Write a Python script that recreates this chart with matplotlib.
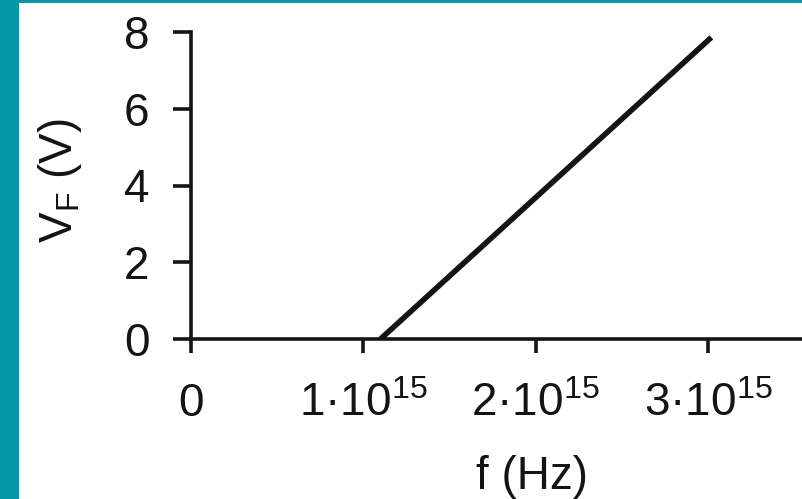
import matplotlib
matplotlib.use("Agg")
import matplotlib.pyplot as plt
import matplotlib.patches as patches

plt.rcParams['font.family'] = ['Liberation Sans', 'DejaVu Sans']
plt.rcParams['mathtext.default'] = 'regular'

# Data
freq_hz = [1.10e15, 3.02e15]
voltage_v = [0.0, 7.86]
xticks = [0, 1e15, 2e15, 3e15]
xtick_labels = ['0', '1·10$^{15}$', '2·10$^{15}$', '3·10$^{15}$']
yticks = [0, 2, 4, 6, 8]
ytick_labels = ['0', '2', '4', '6', '8']

W, H = 802, 499
fig = plt.figure(figsize=(W / 100, H / 100), dpi=100)
fig.patch.set_facecolor('white')

# teal frame (left and top)
teal = '#0798A8'
fig.add_artist(patches.Rectangle((0, 0), 19 / W, 1, transform=fig.transFigure,
                                 facecolor=teal, edgecolor='none', zorder=0))
fig.add_artist(patches.Rectangle((0, 1 - 3 / H), 1, 3 / H, transform=fig.transFigure,
                                 facecolor=teal, edgecolor='none', zorder=0))

x0, x1 = 191, 802
y0, y1 = 339, 32
ax = fig.add_axes([x0 / W, 1 - y0 / H, (x1 - x0) / W, (y0 - y1) / H])
ax.set_facecolor('none')

ink = '#141414'
ax.plot(freq_hz, voltage_v, color=ink, lw=4.0, solid_capstyle='butt')

ax.set_xlim(0, (x1 - x0) / 172.3 * 1e15)
ax.set_ylim(0, 8)

for s in ['top', 'right']:
    ax.spines[s].set_visible(False)
for s in ['left', 'bottom']:
    ax.spines[s].set_linewidth(2.6)
    ax.spines[s].set_color(ink)

ax.set_xticks(xticks)
ax.set_xticklabels(xtick_labels)
ax.set_yticks(yticks)
ax.set_yticklabels(ytick_labels)

fs = 33
ax.tick_params(axis='x', direction='out', length=10, width=2.6, color=ink,
               pad=21, labelsize=fs, labelcolor=ink)
ax.tick_params(axis='y', direction='out', length=13, width=2.6, color=ink,
               pad=17, labelsize=fs, labelcolor=ink)

ax.set_xlabel('f (Hz)', fontsize=fs, color=ink)
ax.xaxis.set_label_coords((532 - x0) / (x1 - x0), -(477 - y0) / (y0 - y1))
ax.xaxis.label.set_va('center')

ax.set_ylabel('V$_F$ (V)', fontsize=fs, color=ink)
ax.yaxis.set_label_coords((60 - x0) / (x1 - x0), (y0 - 181) / (y0 - y1))
ax.yaxis.label.set_va('center')

fig.savefig('out.png', dpi=100)
